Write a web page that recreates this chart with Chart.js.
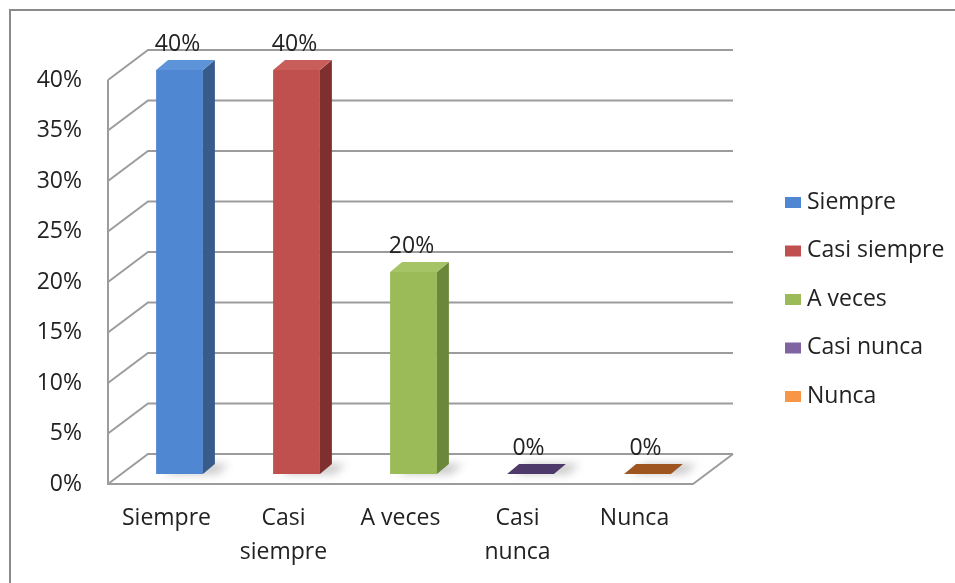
<!DOCTYPE html>
<html>
<head>
<meta charset="utf-8">
<script src="https://cdn.jsdelivr.net/npm/chart.js@4.4.0/dist/chart.umd.min.js"></script>
<style>
  html, body { margin: 0; padding: 0; background: #fff; }
  #wrap { width: 955px; height: 583px; position: relative; }
</style>
</head>
<body>
<div id="wrap"><canvas id="grafico"></canvas></div>
<script>
// datos del gráfico
const categorias = [['Siempre'], ['Casi', 'siempre'], ['A veces'], ['Casi', 'nunca'], ['Nunca']];
const nombresLeyenda = ['Siempre', 'Casi siempre', 'A veces', 'Casi nunca', 'Nunca'];
const porcentajes = [0.40, 0.40, 0.20, 0, 0];
const ticksEje = [0, 0.05, 0.10, 0.15, 0.20, 0.25, 0.30, 0.35, 0.40];

// colores de cada cara de las barras
const coloresFrente = ['#4f87d2', '#c0504d', '#9bbb59', '#8064a2', '#f79646'];
const coloresLado = ['#375b8a', '#7f302e', '#6a873a', '#4e3a6a', '#a0561f'];
const coloresTapa = ['#5d93d9', '#c95d5a', '#a5c466', '#4e3a6a', '#9e5520'];

const fuente = '"Open Sans", "DejaVu Sans", sans-serif';
const tamFuente = 23;
const colorTexto = '#222';
const colorLinea = '#9c9c9c';

// profundidad del "3D"
const PARED = { dx: 40, dy: -30 };       // fondo de la pared
const DESPLAZA = { dx: 13, dy: -10 };    // plano frontal de las barras
const PROF = { dx: 12, dy: -10 };        // grosor de las barras

const fmt = v => Math.round(v * 100) + '%';

// marco, paredes y líneas de cuadrícula
const paredes3d = {
  id: 'paredes3d',
  beforeDraw(chart) {
    const ctx = chart.ctx;
    ctx.save();
    ctx.strokeStyle = '#8a8a8a';
    ctx.lineWidth = 2;
    ctx.strokeRect(10, 10, 1000, 1000);
    ctx.restore();
  },
  beforeDatasetsDraw(chart) {
    const { ctx, chartArea: a, scales: { y } } = chart;
    ctx.save();
    ctx.strokeStyle = colorLinea;
    ctx.lineWidth = 2;
    ticksEje.forEach(t => {
      const py = y.getPixelForValue(t);
      ctx.beginPath();
      ctx.moveTo(a.left, py);
      ctx.lineTo(a.left + PARED.dx, py + PARED.dy);
      ctx.lineTo(a.right + PARED.dx, py + PARED.dy);
      ctx.stroke();
    });
    // borde frontal y piso
    ctx.beginPath();
    ctx.moveTo(a.left, y.getPixelForValue(ticksEje[ticksEje.length - 1]));
    ctx.lineTo(a.left, a.bottom);
    ctx.lineTo(a.right, a.bottom);
    ctx.lineTo(a.right + PARED.dx, a.bottom + PARED.dy);
    ctx.stroke();

    // sombras de las barras sobre el piso
    const meta = chart.getDatasetMeta(0);
    ctx.filter = 'blur(4px)';
    ctx.fillStyle = 'rgba(0,0,0,0.22)';
    meta.data.forEach(el => {
      const p = el.getProps(['x', 'base', 'width'], true);
      const l = p.x - p.width / 2 + DESPLAZA.dx + 8;
      const r = p.x + p.width / 2 + DESPLAZA.dx + 14;
      const b = p.base + DESPLAZA.dy;
      ctx.beginPath();
      ctx.moveTo(l, b);
      ctx.lineTo(r, b);
      ctx.lineTo(r + PROF.dx, b + PROF.dy);
      ctx.lineTo(l + PROF.dx, b + PROF.dy);
      ctx.closePath();
      ctx.fill();
    });
    ctx.filter = 'none';
    ctx.restore();
  },
  beforeDatasetDraw(chart) {
    chart.ctx.save();
    chart.ctx.translate(DESPLAZA.dx, DESPLAZA.dy);
  },
  afterDatasetDraw(chart, args) {
    const ctx = chart.ctx;
    args.meta.data.forEach((el, i) => {
      const p = el.getProps(['x', 'y', 'base', 'width'], true);
      const l = p.x - p.width / 2, r = p.x + p.width / 2;
      const top = Math.min(p.y, p.base), bot = p.base;
      // cara lateral
      if (bot - top > 0.5) {
        ctx.fillStyle = coloresLado[i];
        ctx.beginPath();
        ctx.moveTo(r, top);
        ctx.lineTo(r + PROF.dx, top + PROF.dy);
        ctx.lineTo(r + PROF.dx, bot + PROF.dy);
        ctx.lineTo(r, bot);
        ctx.closePath();
        ctx.fill();
      }
      // tapa
      ctx.fillStyle = coloresTapa[i];
      ctx.beginPath();
      ctx.moveTo(l, top);
      ctx.lineTo(l + PROF.dx, top + PROF.dy);
      ctx.lineTo(r + PROF.dx, top + PROF.dy);
      ctx.lineTo(r, top);
      ctx.closePath();
      ctx.fill();
    });
    ctx.restore();
  },
  afterDatasetsDraw(chart) {
    const ctx = chart.ctx;
    const meta = chart.getDatasetMeta(0);
    ctx.save();
    ctx.font = tamFuente + 'px ' + fuente;
    ctx.fillStyle = colorTexto;
    ctx.textAlign = 'center';
    ctx.textBaseline = 'middle';
    meta.data.forEach((el, i) => {
      ctx.fillText(fmt(porcentajes[i]), el.x + DESPLAZA.dx - 2, el.y + DESPLAZA.dy - 26);
    });
    ctx.restore();
  },
  afterDraw(chart) {
    // leyenda a la derecha
    const ctx = chart.ctx;
    ctx.save();
    ctx.font = tamFuente + 'px ' + fuente;
    ctx.textBaseline = 'middle';
    ctx.textAlign = 'left';
    nombresLeyenda.forEach((n, i) => {
      const cy = 202 + i * 48.5;
      ctx.fillStyle = coloresFrente[i];
      ctx.fillRect(785, cy - 5, 16, 11);
      ctx.fillStyle = colorTexto;
      ctx.fillText(n, 807, cy);
    });
    ctx.restore();
  }
};

const ctx = document.getElementById('grafico').getContext('2d');
new Chart(ctx, {
  type: 'bar',
  data: {
    labels: categorias,
    datasets: [{
      label: 'Porcentaje',
      data: porcentajes,
      backgroundColor: coloresFrente,
      borderWidth: 0,
      categoryPercentage: 1,
      barPercentage: 0.4,
      clip: false
    }]
  },
  options: {
    responsive: true,
    maintainAspectRatio: false,
    animation: false,
    layout: { padding: { top: 80, right: 262, left: 0, bottom: 0 } },
    plugins: {
      legend: { display: false },
      tooltip: { enabled: false }
    },
    scales: {
      x: {
        grid: { display: false, drawTicks: false },
        border: { display: false },
        ticks: {
          color: colorTexto,
          padding: 17,
          maxRotation: 0,
          autoSkip: false,
          font: { family: fuente, size: tamFuente, lineHeight: 1.48 }
        },
        afterFit(scale) { scale.height = 99; }
      },
      y: {
        min: 0,
        max: 0.4,
        grid: { display: false, drawTicks: false },
        border: { display: false },
        afterBuildTicks(scale) { scale.ticks = ticksEje.map(v => ({ value: v })); },
        ticks: {
          color: colorTexto,
          padding: 26,
          callback: v => fmt(v),
          font: { family: fuente, size: tamFuente }
        },
        afterFit(scale) { scale.width = 108; }
      }
    }
  },
  plugins: [paredes3d]
});
</script>
</body>
</html>
